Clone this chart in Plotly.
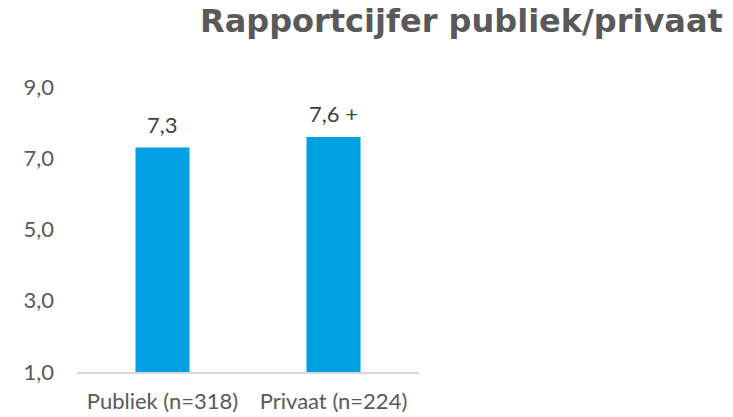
import plotly.graph_objects as go

categories = ["Publiek (n=318)", "Privaat (n=224)"]
values = [7.3, 7.6]
label_suffix = ["", " +"]
tick_values = [1, 3, 5, 7, 9]
title_text = "Rapportcijfer publiek/privaat"

BAR = "#00A0E3"
TICK = "#595959"
LABEL = "#404040"
FONT = "Lato, 'Open Sans', sans-serif"

fig = go.Figure()
fig.add_trace(go.Bar(x=categories, y=values, marker=dict(color=BAR, line=dict(width=0)),
                     hoverinfo="skip"))

for c, v, s in zip(categories, values, label_suffix):
    fig.add_annotation(x=c, y=v, xref="x", yref="y",
                       text=f"{v:.1f}".replace(".", ",") + s,
                       showarrow=False, yanchor="middle", yshift=23,
                       font=dict(family=FONT, size=22, color=LABEL))

# title as paper annotation (right aligned)
fig.add_annotation(x=(725 - 77) / 342, y=(372 - 21) / 285, xref="paper", yref="paper",
                   text="<b>" + title_text + "</b>", showarrow=False,
                   xanchor="right", yanchor="middle",
                   font=dict(family="DejaVu Sans", size=32, color=TICK))

fig.update_layout(
    width=733, height=417,
    margin=dict(l=77, r=314, t=87, b=45, autoexpand=False),
    paper_bgcolor="white", plot_bgcolor="white",
    separators=",.",
    bargap=0.684,
    showlegend=False,
    xaxis=dict(showline=True, linecolor="#D9D9D9", linewidth=1.5, showgrid=False,
               ticks="", ticklabelstandoff=9, automargin=False,
               tickfont=dict(family=FONT, size=22, color=TICK), fixedrange=True),
    yaxis=dict(range=[1, 9], tickvals=tick_values, tickformat=".1f", showgrid=False,
               zeroline=False, showline=False, ticks="", ticklabelstandoff=22, automargin=False,
               tickfont=dict(family=FONT, size=22, color=TICK), fixedrange=True),
)

fig.write_html("out.html", config={"displayModeBar": False},
               post_script="document.body.style.margin='0';document.body.style.overflow='hidden';")
